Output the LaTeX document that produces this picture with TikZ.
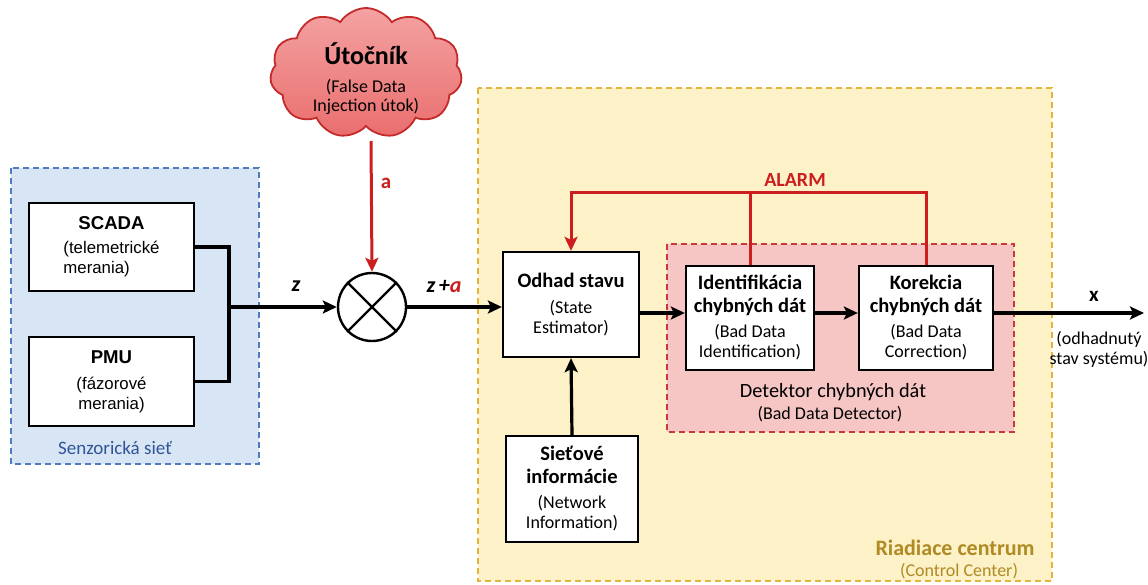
\documentclass[tikz,border=0pt]{standalone}
\usepackage{fontspec}
\setmainfont{Carlito}
\newfontfamily\arialf{Liberation Sans}
\usetikzlibrary{shapes.symbols,arrows.meta,calc}

\definecolor{sensfill}{HTML}{D7E5F5}
\definecolor{sensline}{HTML}{4F7CC0}
\definecolor{senstext}{HTML}{2F5597}
\definecolor{ccfill}{HTML}{FDF1C8}
\definecolor{ccline}{HTML}{E3B53A}
\definecolor{cctext}{HTML}{B08A22}
\definecolor{bddfill}{HTML}{F6C6C4}
\definecolor{bddline}{HTML}{C8383C}
\definecolor{alarmred}{HTML}{CC1E1E}
\definecolor{cloudtop}{HTML}{F4A2A2}
\definecolor{cloudbot}{HTML}{EA6E6E}
\definecolor{cloudline}{HTML}{C42A2A}

\newcommand{\ttl}{\fontsize{20.5}{23}\selectfont\bfseries}
\newcommand{\sbt}{\fontsize{18}{20}\selectfont}
\newcommand{\asbt}{\fontsize{16.8}{20}\selectfont}

\tikzset{
  x=1pt, y=-1pt,
  region/.style={line width=1.5pt, dash pattern=on 6pt off 4pt},
  block/.style={draw=black, fill=white, line width=2.3pt, align=center, inner sep=0pt, font=\sbt},
  conn/.style={draw=black, line width=3.2pt, line join=miter},
  arr/.style={conn, -{Stealth[length=14pt,width=13pt,inset=3pt]}},
  redline/.style={draw=alarmred, line width=3pt, line join=miter},
  redarr/.style={redline, -{Stealth[length=14pt,width=13pt,inset=3pt]}},
  lbl/.style={inner sep=0pt, align=center}
}

\begin{document}
\begin{tikzpicture}
\useasboundingbox (0,0) rectangle (1148,584);

% regions
\draw[region, draw=sensline, fill=sensfill] (11,168) rectangle (259,464);
\draw[region, draw=ccline, fill=ccfill] (478,88) rectangle (1052,581);
\draw[region, draw=bddline, fill=bddfill] (667,244) rectangle (1014,432);

\node[lbl, text=senstext, font=\fontsize{19}{22}\selectfont] (senslbl) at (115,448) {Senzorická sieť};
\node[lbl, text=cctext, font=\fontsize{22}{26}\selectfont\bfseries] (cclbl) at (955,548) {Riadiace centrum};
\node[lbl, text=cctext, font=\sbt] (cclbl2) at (959,571) {(Control Center)};
\node[lbl, font=\fontsize{20.3}{24}\selectfont] (bddlbl) at (833,392) {Detektor chybných dát};
\node[lbl, font=\sbt] (bddlbl2) at (830,414) {(Bad Data Detector)};

% sensor blocks
\node[block, minimum width=165pt, minimum height=88pt, font=\arialf\asbt] (scada) at (111.5,247)
  {\begin{tabular}{@{}l@{}}\multicolumn{1}{@{}c@{}}{\fontsize{18.6}{22}\selectfont\bfseries SCADA}\\[4pt]
   (telemetrické\\ merania)\end{tabular}};
\node[block, minimum width=165pt, minimum height=89pt, font=\arialf\asbt] (pmu) at (111.5,381.5)
  {{\fontsize{18.6}{22}\selectfont\bfseries PMU}\\[6pt]
   (fázorové\\merania)};

% attacker
\node[cloud, cloud puffs=11, cloud puff arc=115, cloud ignores aspect,
      minimum width=192pt, minimum height=130pt, draw=cloudline, line width=1.8pt,
      top color=cloudtop, bottom color=cloudbot] (attacker) at (366,73) {};
\node[lbl, font=\fontsize{18}{19}\selectfont] (attlbl) at (366,79)
  {{\fontsize{26}{30}\selectfont\bfseries Útočník}\\[9pt](False Data\\Injection útok)};
\coordinate (atk) at (371,141);

% summing junction
\node[circle, draw=black, line width=2.4pt, minimum size=68pt, inner sep=0pt] (sum) at (372,307) {};
\draw[line width=2.4pt] (sum.north west) -- (sum.south east) (sum.north east) -- (sum.south west);

% control centre blocks
\node[block, minimum width=136pt, minimum height=105pt] (odhad) at (571,304.5)
  {{\ttl Odhad stavu}\\[6pt](State\\Estimator)};
\node[block, minimum width=128pt, minimum height=104pt] (ident) at (750,318)
  {{\ttl Identifikácia}\\[3pt]{\ttl chybných dát}\\[5pt](Bad Data\\Identification)};
\node[block, minimum width=134pt, minimum height=104pt] (kor) at (926,318)
  {{\ttl Korekcia}\\[3pt]{\ttl chybných dát}\\[5pt](Bad Data\\Correction)};
\node[block, minimum width=132pt, minimum height=106pt] (net) at (572,489)
  {{\ttl Sieťové}\\[3pt]{\ttl informácie}\\[5pt](Network\\Information)};

% helper points
\coordinate (jn) at (229,307);
\coordinate (ly) at (0,313);
\coordinate (al) at (0,192);
\coordinate (xout) at (1144,313);

% sensor network to junction
\draw[conn] (scada.east) -| (jn) |- (pmu.east);
\draw[arr] (jn) -- (sum.west);
\node[lbl, font=\fontsize{22}{26}\selectfont\bfseries\itshape] (zlbl) at (296,286) {z};

% injected attack vector
\draw[redarr] (atk) -- (sum.north);
\node[lbl, text=alarmred, font=\fontsize{21}{25}\selectfont\bfseries] (albl) at (386,183) {a};

% into the estimator
\draw[arr] (sum.east) -- (sum -| odhad.west);
\node[lbl, font=\fontsize{22}{26}\selectfont\bfseries\itshape] (zalbl) at (444,286) {z\,+\textcolor{alarmred}{a}};

% estimator chain
\draw[arr] (odhad.east |- ly) -- (ident.west |- ly);
\draw[arr] (ident.east |- ly) -- (kor.west |- ly);
\draw[arr] (kor.east |- ly) -- (xout);
\node[lbl, font=\fontsize{21}{25}\selectfont\bfseries] (xlbl) at (1094,296) {x};
\node[lbl, font=\sbt, anchor=north] (xlbl2) at (1099,331) {(odhadnutý\\stav systému)};

% network information
\draw[arr] (net.north) -- (odhad.south);

% alarm feedback
\draw[redarr] (kor.north) |- (odhad.north |- al) -- (odhad.north);
\draw[redline] (ident.north) -- (ident.north |- al);
\node[lbl, text=alarmred, font=\fontsize{20}{24}\selectfont\bfseries] (alarm) at (795,180) {ALARM};
\end{tikzpicture}
\end{document}
